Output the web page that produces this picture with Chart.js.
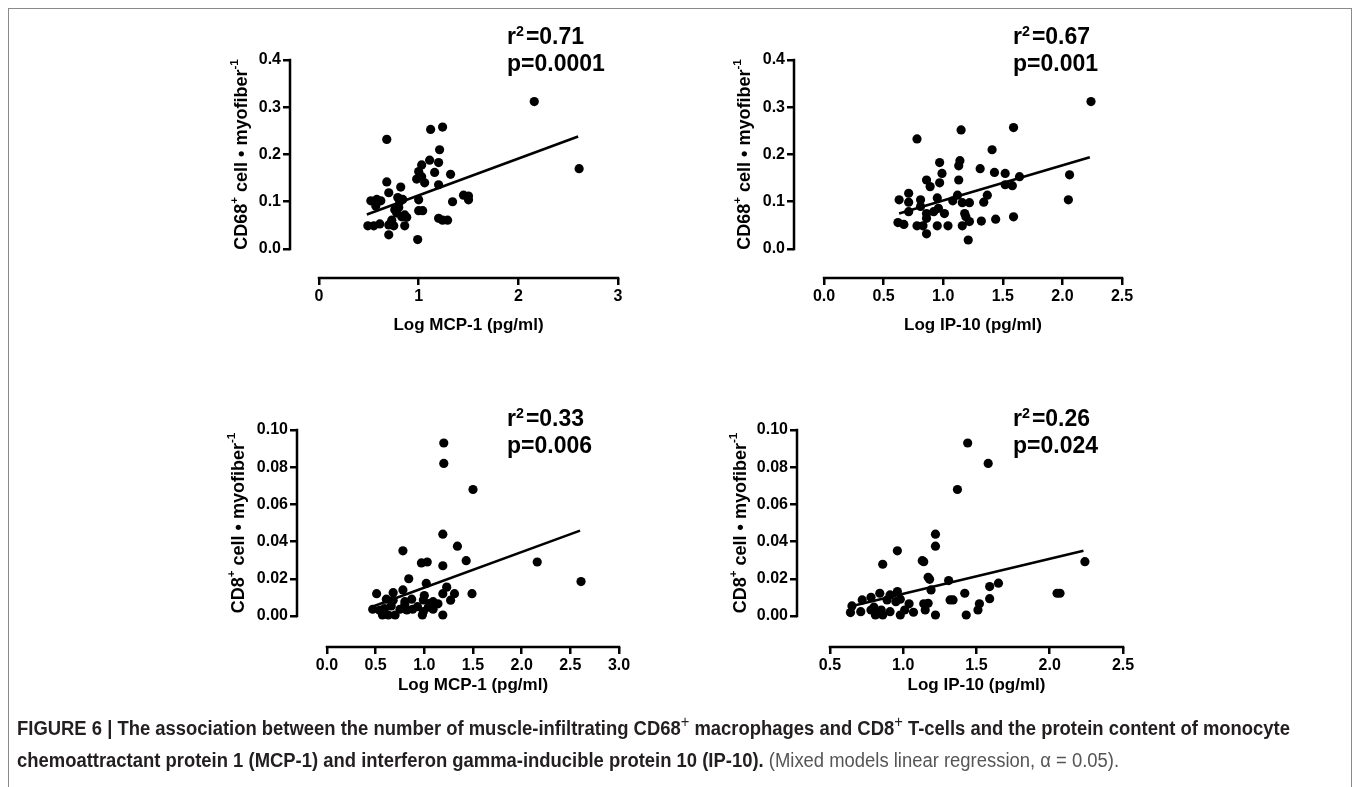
<!DOCTYPE html>
<html>
<head>
<meta charset="utf-8">
<script src="https://cdn.jsdelivr.net/npm/chart.js@4.4.1/dist/chart.umd.min.js"></script>
<style>
  body { margin: 0; width: 1358px; height: 787px; background: #fff; overflow: hidden; position: relative; }
  .frame { position: absolute; left: 8px; top: 8px; width: 1342px; height: 800px; border: 1.5px solid #8a8a8a; border-bottom: none; }
  canvas { position: absolute; }
  .stat { position: absolute; font: bold 23px "Liberation Sans", Arial, sans-serif; line-height: 27px; color: #000; white-space: nowrap; }
  .stat sup { font-size: 0.62em; vertical-align: 0.55em; line-height: 0; margin-right: 2px; }
  .caption { position: absolute; left: 17px; top: 712px; font: bold 20px "Liberation Sans", Arial, sans-serif; line-height: 32px; color: #231f20; white-space: nowrap; transform-origin: left top; }
  .caption sup { font-weight: normal; font-size: 0.8em; line-height: 0; }
  .caption .light { font-weight: normal; color: #555; }
</style>
</head>
<body>
<div class="frame"></div>

<canvas id="c1" width="423" height="308" style="left:215px; top:40px"></canvas>
<canvas id="c2" width="423" height="308" style="left:719px; top:40px"></canvas>
<canvas id="c3" width="417" height="307" style="left:222px; top:410px"></canvas>
<canvas id="c4" width="421" height="307" style="left:722px; top:410px"></canvas>

<div class="stat" style="left:507px; top:23px">r<sup>2</sup>=0.71<br>p=0.0001</div>
<div class="stat" style="left:1013px; top:23px">r<sup>2</sup>=0.67<br>p=0.001</div>
<div class="stat" style="left:507px; top:405px">r<sup>2</sup>=0.33<br>p=0.006</div>
<div class="stat" style="left:1013px; top:405px">r<sup>2</sup>=0.26<br>p=0.024</div>

<div class="caption" id="caption">FIGURE 6 | The association between the number of muscle-infiltrating CD68<sup>+</sup> macrophages and CD8<sup>+</sup> T-cells and the protein content of monocyte<br>chemoattractant protein 1 (MCP-1) and interferon gamma-inducible protein 10 (IP-10). <span class="light">(Mixed models linear regression, α = 0.05).</span></div>

<script>
// CD68+ cells vs log MCP-1
const cd68McpX = [2.16, 2.61, 0.68, 1.12, 1.24, 1.21, 1.03, 1.11, 1.20, 1.00, 1.16, 1.32, 0.98, 1.03, 1.06, 1.20, 0.68, 0.82, 0.70, 0.52, 0.58, 0.62, 0.79, 0.81, 0.84, 1.00, 1.34, 1.45, 1.50, 1.50, 0.57, 0.80, 0.78, 0.83, 0.86, 0.88, 1.00, 1.04, 0.76, 0.49, 0.55, 0.61, 0.70, 0.75, 0.86, 0.70, 0.99, 1.20, 1.24, 1.29, 0.73];
const cd68McpY = [0.312, 0.170, 0.232, 0.253, 0.258, 0.210, 0.178, 0.188, 0.183, 0.164, 0.162, 0.158, 0.148, 0.153, 0.140, 0.136, 0.142, 0.131, 0.119, 0.102, 0.105, 0.102, 0.109, 0.100, 0.105, 0.104, 0.100, 0.114, 0.112, 0.104, 0.091, 0.088, 0.076, 0.068, 0.072, 0.067, 0.081, 0.081, 0.083, 0.049, 0.049, 0.053, 0.051, 0.049, 0.049, 0.030, 0.020, 0.065, 0.061, 0.061, 0.061];
const cd68McpFitX = [0.48, 2.60];
const cd68McpFitY = [0.073, 0.238];

// CD68+ cells vs log IP-10
const cd68Ip10X = [2.24, 0.78, 1.15, 1.59, 1.41, 0.97, 1.14, 1.13, 1.31, 0.99, 1.43, 1.52, 1.64, 2.06, 0.86, 1.13, 0.89, 0.97, 1.52, 1.58, 0.63, 0.71, 0.71, 0.81, 0.81, 0.95, 1.12, 1.08, 1.16, 1.22, 1.34, 1.37, 2.05, 0.71, 0.86, 0.92, 0.96, 1.01, 1.18, 1.19, 0.86, 0.62, 0.67, 0.78, 0.83, 0.95, 1.04, 1.16, 1.22, 1.32, 1.44, 1.59, 0.86, 1.21];
const cd68Ip10Y = [0.312, 0.233, 0.252, 0.257, 0.210, 0.183, 0.187, 0.176, 0.170, 0.160, 0.162, 0.160, 0.153, 0.157, 0.146, 0.146, 0.132, 0.140, 0.136, 0.134, 0.104, 0.118, 0.099, 0.104, 0.090, 0.108, 0.114, 0.102, 0.098, 0.098, 0.099, 0.114, 0.104, 0.079, 0.075, 0.079, 0.086, 0.075, 0.075, 0.068, 0.065, 0.056, 0.052, 0.049, 0.049, 0.049, 0.049, 0.049, 0.058, 0.059, 0.063, 0.068, 0.032, 0.019];
const cd68Ip10FitX = [0.63, 2.23];
const cd68Ip10FitY = [0.075, 0.194];

// CD8+ cells vs log MCP-1
const cd8McpX = [1.20, 1.20, 1.50, 1.19, 1.34, 0.78, 0.97, 1.03, 1.19, 1.43, 2.16, 2.61, 0.84, 1.02, 1.23, 0.51, 0.68, 0.78, 1.00, 1.19, 1.31, 1.49, 1.27, 0.61, 0.68, 0.80, 0.87, 0.99, 1.09, 0.47, 0.54, 0.59, 0.66, 0.75, 0.82, 0.88, 1.04, 1.14, 1.09, 0.57, 0.63, 0.70, 0.98, 1.19, 0.99, 0.93, 1.06, 0.80];
const cd8McpY = [0.093, 0.082, 0.068, 0.044, 0.0375, 0.035, 0.0285, 0.029, 0.027, 0.0297, 0.029, 0.0185, 0.020, 0.0175, 0.0155, 0.012, 0.0125, 0.014, 0.011, 0.012, 0.012, 0.012, 0.0085, 0.009, 0.0085, 0.0077, 0.009, 0.0086, 0.0077, 0.0036, 0.003, 0.004, 0.0054, 0.0036, 0.0032, 0.0036, 0.0047, 0.0065, 0.0036, 0.0005, 0.0005, 0.0005, 0.0005, 0.0005, 0.0023, 0.005, 0.0068, 0.006];
const cd8McpFitX = [0.45, 2.60];
const cd8McpFitY = [0.0047, 0.0459];

// CD8+ cells vs log IP-10
const cd8Ip10X = [1.44, 1.58, 1.37, 1.22, 1.22, 0.96, 0.86, 1.13, 1.14, 2.24, 1.17, 1.18, 1.31, 1.65, 1.59, 1.19, 2.05, 2.07, 1.42, 0.96, 0.84, 0.91, 0.72, 0.78, 0.89, 0.98, 0.95, 1.32, 1.34, 1.14, 1.17, 1.52, 1.59, 1.04, 0.65, 0.80, 0.64, 0.71, 0.78, 0.85, 0.91, 1.01, 1.07, 1.15, 1.51, 0.81, 0.86, 0.98, 1.22, 1.43];
const cd8Ip10Y = [0.093, 0.082, 0.068, 0.044, 0.0375, 0.035, 0.0278, 0.0297, 0.0292, 0.0292, 0.0208, 0.0197, 0.019, 0.0176, 0.0158, 0.014, 0.0122, 0.0122, 0.0122, 0.0131, 0.0122, 0.0113, 0.0086, 0.010, 0.0086, 0.009, 0.0077, 0.0086, 0.0086, 0.0065, 0.0068, 0.0065, 0.0093, 0.0065, 0.0054, 0.0047, 0.0018, 0.0023, 0.0032, 0.0032, 0.0023, 0.0032, 0.002, 0.0032, 0.0032, 0.0005, 0.0005, 0.0005, 0.0005, 0.0005];
const cd8Ip10FitX = [0.63, 2.23];
const cd8Ip10FitY = [0.005, 0.0351];

// tick labels
const cd68Ticks = ["0.0", "0.1", "0.2", "0.3", "0.4"];
const cd8Ticks = ["0.00", "0.02", "0.04", "0.06", "0.08", "0.10"];
const mcpTicksTop = ["0", "1", "2", "3"];
const mcpTicksBottom = ["0.0", "0.5", "1.0", "1.5", "2.0", "2.5", "3.0"];
const ip10TicksTop = ["0.0", "0.5", "1.0", "1.5", "2.0", "2.5"];
const ip10TicksBottom = ["0.5", "1.0", "1.5", "2.0", "2.5"];

// axis titles (sup = superscript part)
const cd68Title = [{ t: "CD68" }, { t: "+", sup: true }, { t: " cell \u2022 myofiber" }, { t: "-1", sup: true }];
const cd8Title = [{ t: "CD8" }, { t: "+", sup: true }, { t: " cell \u2022 myofiber" }, { t: "-1", sup: true }];
const mcpTitle = [{ t: "Log MCP-1 (pg/ml)" }];
const ip10Title = [{ t: "Log IP-10 (pg/ml)" }];

const tickFont = { family: "'Liberation Sans', Arial, sans-serif", size: 16, weight: "bold" };

function drawRich(ctx, parts, cx, cy, size) {
  const font = (s) => "bold " + s + "px 'Liberation Sans', Arial, sans-serif";
  let total = 0;
  parts.forEach((p) => {
    ctx.font = font(p.sup ? size * 0.65 : size);
    p.w = ctx.measureText(p.t).width;
    total += p.w;
  });
  let x = cx - total / 2;
  ctx.textBaseline = "middle";
  ctx.textAlign = "left";
  ctx.fillStyle = "#000";
  parts.forEach((p) => {
    ctx.font = font(p.sup ? size * 0.65 : size);
    ctx.fillText(p.t, x, p.sup ? cy - size * 0.38 : cy);
    x += p.w;
  });
}

// Prism-style detached axes: lines only span first..last tick
const prismAxes = {
  id: "prismAxes",
  afterDraw(chart, args, opts) {
    const { ctx, chartArea, scales } = chart;
    const xt = scales.x.ticks;
    const yt = scales.y.ticks;
    const x0 = scales.x.getPixelForValue(xt[0].value);
    const x1 = scales.x.getPixelForValue(xt[xt.length - 1].value);
    const y0 = scales.y.getPixelForValue(yt[0].value);
    const y1 = scales.y.getPixelForValue(yt[yt.length - 1].value);
    ctx.save();
    ctx.strokeStyle = "#000";
    ctx.lineWidth = 2.5;
    ctx.lineCap = "square";
    ctx.beginPath();
    ctx.moveTo(chartArea.left, y0);
    ctx.lineTo(chartArea.left, y1);
    ctx.moveTo(x0, chartArea.bottom);
    ctx.lineTo(x1, chartArea.bottom);
    ctx.stroke();
    drawRich(ctx, opts.xTitle, (x0 + x1) / 2, chartArea.bottom + opts.xGap, 17);
    ctx.translate(chartArea.left - opts.yGap, (y0 + y1) / 2);
    ctx.rotate(-Math.PI / 2);
    drawRich(ctx, opts.yTitle, 0, 0, 18);
    ctx.restore();
  },
};

function toPoints(xs, ys) {
  return xs.map((x, i) => ({ x: x, y: ys[i] }));
}

function axis(labels, min, fitSize) {
  const values = labels.map(Number);
  return {
    type: "linear",
    min: min,
    max: values[values.length - 1],
    afterBuildTicks: (scale) => {
      scale.ticks = values.map((v) => ({ value: v }));
    },
    afterFit: fitSize,
    ticks: {
      callback: (v, i) => labels[i],
      autoSkip: false,
      maxRotation: 0,
      padding: 2,
      color: "#000",
      font: tickFont,
    },
    grid: { drawOnChartArea: false, color: "#000", lineWidth: 2.5, tickLength: 7 },
    border: { display: false },
  };
}

function buildPanel(p) {
  const ctx = document.getElementById(p.id).getContext("2d");
  new Chart(ctx, {
    type: "scatter",
    data: {
      datasets: [
        {
          data: toPoints(p.x, p.y),
          backgroundColor: "#000",
          borderWidth: 0,
          pointRadius: 4.6,
          clip: false,
        },
        {
          data: toPoints(p.fitX, p.fitY),
          showLine: true,
          borderColor: "#000",
          borderWidth: 2.6,
          pointRadius: 0,
          clip: false,
        },
      ],
    },
    options: {
      responsive: false,
      animation: false,
      events: [],
      layout: { padding: { top: 20, right: 20, bottom: 0, left: 0 } },
      scales: {
        x: axis(p.xTicks, p.xMin, (s) => { s.height = 70; }),
        y: axis(p.yTicks, p.yMin, (s) => { s.width = 75; }),
      },
      plugins: {
        legend: { display: false },
        tooltip: { enabled: false },
        prismAxes: { xTitle: p.xTitle, yTitle: p.yTitle, xGap: p.xGap, yGap: p.yGap },
      },
    },
    plugins: [prismAxes],
  });
}

buildPanel({ id: "c1", x: cd68McpX, y: cd68McpY, fitX: cd68McpFitX, fitY: cd68McpFitY,
  xTicks: mcpTicksTop, yTicks: cd68Ticks, xMin: -0.291, yMin: -0.0614,
  xTitle: mcpTitle, yTitle: cd68Title, xGap: 47, yGap: 48 });
buildPanel({ id: "c2", x: cd68Ip10X, y: cd68Ip10Y, fitX: cd68Ip10FitX, fitY: cd68Ip10FitY,
  xTicks: ip10TicksTop, yTicks: cd68Ticks, xMin: -0.252, yMin: -0.0614,
  xTitle: ip10Title, yTitle: cd68Title, xGap: 47, yGap: 49 });
buildPanel({ id: "c3", x: cd8McpX, y: cd8McpY, fitX: cd8McpFitX, fitY: cd8McpFitY,
  xTicks: mcpTicksBottom, yTicks: cd8Ticks, xMin: -0.308, yMin: -0.0167,
  xTitle: mcpTitle, yTitle: cd8Title, xGap: 38, yGap: 58 });
buildPanel({ id: "c4", x: cd8Ip10X, y: cd8Ip10Y, fitX: cd8Ip10FitX, fitY: cd8Ip10FitY,
  xTicks: ip10TicksBottom, yTicks: cd8Ticks, xMin: 0.275, yMin: -0.0167,
  xTitle: ip10Title, yTitle: cd8Title, xGap: 38, yGap: 56 });

// squeeze the caption to the condensed width of the original
const caption = document.getElementById("caption");
caption.style.transform = "scaleX(" + (1273 / caption.getBoundingClientRect().width) + ")";
</script>
</body>
</html>
